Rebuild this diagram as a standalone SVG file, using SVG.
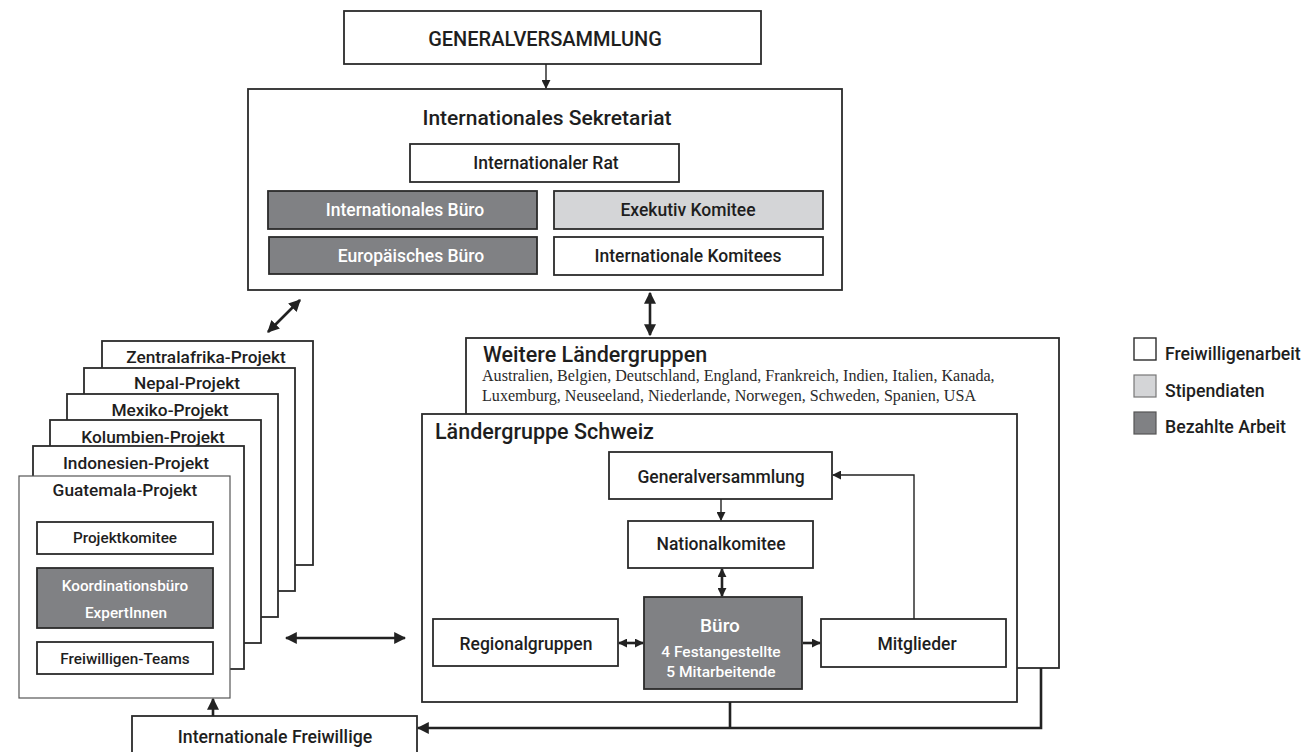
<svg xmlns="http://www.w3.org/2000/svg" width="1309" height="752" viewBox="0 0 1309 752">
<style>
.b{fill:#fff;stroke:#2b2b2b;stroke-width:1.8}
.dk{fill:#808184;stroke:#2b2b2b;stroke-width:1.8}
.lt{fill:#d4d5d7;stroke:#2b2b2b;stroke-width:1.8}
.t{font-family:Roboto,"Liberation Sans",sans-serif;font-weight:500;fill:#1e1e1e;text-anchor:middle}
.w{fill:#fff}
.l{text-anchor:start}
.s{font-family:"Liberation Serif",serif;font-size:16.1px;fill:#2a2a2a}
.c{fill:none;stroke:#222;stroke-width:2.6}
.cn{fill:none;stroke:#222;stroke-width:1.4}
</style>
<defs>
<marker id="ah" viewBox="0 0 10 10" refX="9" refY="5" markerWidth="12" markerHeight="12" markerUnits="userSpaceOnUse" orient="auto-start-reverse"><path d="M0,0 L10,5 L0,10 z" fill="#222"/></marker>
<marker id="as" viewBox="0 0 10 10" refX="9" refY="5" markerWidth="9" markerHeight="9" markerUnits="userSpaceOnUse" orient="auto-start-reverse"><path d="M0,0 L10,5 L0,10 z" fill="#222"/></marker>
</defs>

<g id="generalversammlung">
<rect class="b" x="344" y="11" width="417" height="53"/>
<text class="t" x="545" y="46" font-size="20">GENERALVERSAMMLUNG</text>
</g>

<g id="sekretariat">
<rect class="b" x="248" y="89" width="594" height="201"/>
<text class="t" x="547" y="125" font-size="21">Internationales Sekretariat</text>
</g>
<g id="internationaler-rat">
<rect class="b" x="410" y="144" width="269" height="38"/>
<text class="t" x="546" y="169" font-size="17.5">Internationaler Rat</text>
</g>
<g id="internationales-buero">
<rect class="dk" x="268" y="191" width="269" height="38"/>
<text class="t w" x="405" y="216" font-size="17.5">Internationales Büro</text>
</g>
<g id="exekutiv-komitee">
<rect class="lt" x="554" y="191" width="269" height="38"/>
<text class="t" x="688" y="216" font-size="17.5">Exekutiv Komitee</text>
</g>
<g id="europaeisches-buero">
<rect class="dk" x="269" y="237" width="268" height="37"/>
<text class="t w" x="411" y="262" font-size="17.5">Europäisches Büro</text>
</g>
<g id="internationale-komitees">
<rect class="b" x="554" y="237" width="269" height="38"/>
<text class="t" x="688" y="262" font-size="17.5">Internationale Komitees</text>
</g>

<g id="weitere-laendergruppen">
<rect class="b" x="466" y="338" width="593" height="330"/>
<text class="t l" x="483" y="362" font-size="21.5">Weitere Ländergruppen</text>
<text class="s" x="482" y="381">Australien, Belgien, Deutschland, England, Frankreich, Indien, Italien, Kanada,</text>
<text class="s" x="482" y="401">Luxemburg, Neuseeland, Niederlande, Norwegen, Schweden, Spanien, USA</text>
</g>

<g id="laendergruppe-schweiz">
<rect class="b" x="422" y="414" width="595" height="288"/>
<text class="t l" x="435" y="439" font-size="21.5">Ländergruppe Schweiz</text>
</g>
<g id="ch-generalversammlung">
<rect class="b" x="609" y="452" width="223" height="47"/>
<text class="t" x="721" y="483" font-size="17.5">Generalversammlung</text>
</g>
<g id="nationalkomitee">
<rect class="b" x="628" y="521" width="185" height="47"/>
<text class="t" x="721" y="550" font-size="17.5">Nationalkomitee</text>
</g>
<g id="buero">
<rect class="dk" x="644" y="597" width="158" height="92"/>
<text class="t w" x="720" y="632" font-size="19">Büro</text>
<text class="t w" x="721" y="657" font-size="15.5">4 Festangestellte</text>
<text class="t w" x="721" y="677" font-size="15.5">5 Mitarbeitende</text>
</g>
<g id="regionalgruppen">
<rect class="b" x="433" y="619" width="185" height="47"/>
<text class="t" x="526" y="650" font-size="17.5">Regionalgruppen</text>
</g>
<g id="mitglieder">
<rect class="b" x="821" y="619" width="185" height="48"/>
<text class="t" x="917" y="650" font-size="17.5">Mitglieder</text>
</g>

<g id="zentralafrika-projekt">
<rect class="b" x="102" y="341" width="211" height="224"/>
<text class="t" x="206" y="363" font-size="17.3">Zentralafrika-Projekt</text>
</g>
<g id="nepal-projekt">
<rect class="b" x="84" y="368" width="211" height="223"/>
<text class="t" x="187" y="389" font-size="17.3">Nepal-Projekt</text>
</g>
<g id="mexiko-projekt">
<rect class="b" x="67" y="394" width="211" height="223"/>
<text class="t" x="170" y="416" font-size="17.3">Mexiko-Projekt</text>
</g>
<g id="kolumbien-projekt">
<rect class="b" x="50" y="420" width="211" height="223"/>
<text class="t" x="153" y="443" font-size="17.3">Kolumbien-Projekt</text>
</g>
<g id="indonesien-projekt">
<rect class="b" x="33" y="446" width="211" height="223"/>
<text class="t" x="136" y="469" font-size="17.3">Indonesien-Projekt</text>
</g>
<g id="guatemala-projekt">
<rect x="19" y="476" width="211" height="222" fill="#fff" stroke="#555" stroke-width="1.2"/>
<text class="t" x="125" y="496" font-size="17.3">Guatemala-Projekt</text>
</g>
<g id="projektkomitee">
<rect class="b" x="37" y="522" width="176" height="32"/>
<text class="t" x="125" y="543" font-size="15.3">Projektkomitee</text>
</g>
<g id="koordinationsbuero">
<rect class="dk" x="37" y="568" width="176" height="60"/>
<text class="t w" x="125" y="591" font-size="15.3">Koordinationsbüro</text>
<text class="t w" x="126" y="618" font-size="15.3">ExpertInnen</text>
</g>
<g id="freiwilligen-teams">
<rect class="b" x="37" y="642" width="176" height="32"/>
<text class="t" x="125" y="664" font-size="15.3">Freiwilligen-Teams</text>
</g>

<g id="internationale-freiwillige">
<rect class="b" x="132" y="716" width="285" height="50"/>
<text class="t" x="275" y="743" font-size="17.7">Internationale Freiwillige</text>
</g>

<g id="legende">
<rect x="1134" y="338" width="22" height="22" fill="#fff" stroke="#2b2b2b" stroke-width="1.4"/>
<text class="t l" x="1165" y="360" font-size="17.7">Freiwilligenarbeit</text>
<rect x="1134" y="375" width="22" height="22" fill="#d4d5d7" stroke="#777" stroke-width="1.2"/>
<text class="t l" x="1165" y="397" font-size="17.7">Stipendiaten</text>
<rect x="1134" y="412" width="22" height="22" fill="#808184" stroke="#555" stroke-width="1.2"/>
<text class="t l" x="1165" y="433" font-size="17.7">Bezahlte Arbeit</text>
</g>

<g id="connectors">
<line class="cn" x1="546" y1="64" x2="546" y2="88" marker-end="url(#as)"/>
<line class="c" x1="268" y1="332" x2="300" y2="300" marker-start="url(#ah)" marker-end="url(#ah)"/>
<line class="c" x1="650" y1="293" x2="650" y2="335" marker-start="url(#ah)" marker-end="url(#ah)"/>
<line class="c" x1="286" y1="638" x2="405" y2="638" marker-start="url(#ah)" marker-end="url(#ah)"/>
<line class="c" x1="213" y1="716" x2="213" y2="699" marker-end="url(#ah)"/>
<line class="c" x1="730" y1="702" x2="730" y2="728"/>
<polyline class="c" points="1041,668 1041,728 418,728" marker-end="url(#ah)"/>
<line class="cn" x1="721" y1="499" x2="721" y2="520" marker-end="url(#as)"/>
<line class="c" x1="722" y1="569" x2="722" y2="596" stroke-width="1.8" marker-start="url(#as)" marker-end="url(#as)"/>
<line class="c" x1="619" y1="643" x2="643" y2="643" stroke-width="1.8" marker-start="url(#as)" marker-end="url(#as)"/>
<line class="c" x1="803" y1="643" x2="820" y2="643" stroke-width="1.8" marker-end="url(#as)"/>
<polyline class="cn" points="914,619 914,475 833,475" stroke-width="1.1" marker-end="url(#as)"/>
</g>
</svg>
